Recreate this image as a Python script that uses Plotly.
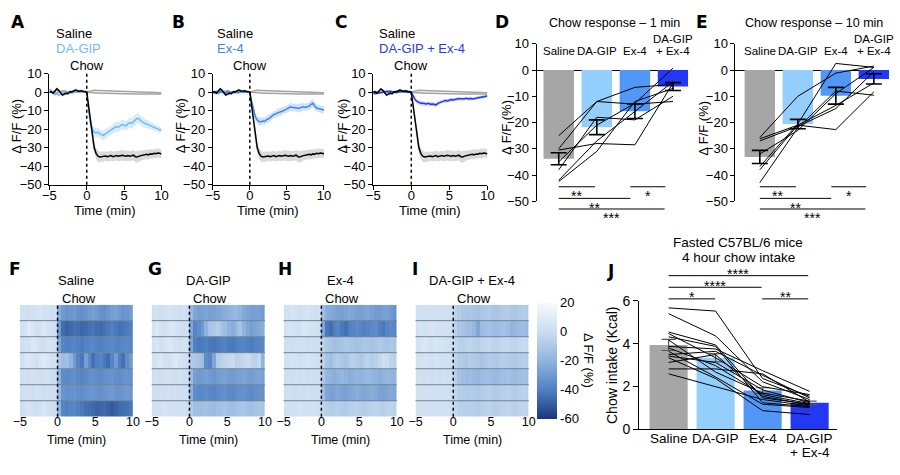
import plotly.graph_objects as go

FONT = "Liberation Sans, Arial, Helvetica, sans-serif"
BOLD = "DejaVu Sans, Liberation Sans, Arial, sans-serif"
W, H = 900, 475

# ---------------- data: photometry traces (A–C) ----------------
time_min = [-5 + 0.25 * i for i in range(61)]

saline_mean = [0, 0.3, -0.5, 0.5, 1.8, 1.0, -0.5, -1.5, -1.0, -0.5, -0.8, 0.3, 0.2, 0.5, 1.2, 0.8, 0.5, 0.8, 0.3, 0.2, 0,
               -8, -17, -25, -30, -33, -34.5, -35, -34.8, -35, -34.5, -34.8, -34.5, -34.2, -34.8, -34.5, -34.2, -34.6,
               -34.3, -34, -34.3, -34.5, -34.2, -34.5, -34.3, -34, -34.8, -35, -34.5, -34.2, -34, -33.8, -33.5, -33.8,
               -33.3, -33.5, -33, -33.2, -32.8, -33, -33.3]
saline_sem = [0.6, 0.7, 0.8, 0.8, 0.9, 0.8, 0.7, 0.8, 0.9, 0.8, 0.7, 0.8, 0.7, 0.8, 0.9, 0.8, 0.7, 0.8, 0.7, 0.6, 0.6,
              1.5, 2.0, 2.5, 2.8, 3.0, 3.0, 2.8, 2.7, 2.6, 2.5, 2.6, 2.7, 2.8, 2.6, 2.5, 2.6, 2.7, 2.8, 2.9, 3.0,
              2.8, 2.7, 2.6, 2.7, 2.8, 3.0, 3.1, 2.9, 2.7, 2.6, 2.5, 2.6, 2.7, 2.5, 2.4, 2.5, 2.6, 2.5, 2.4, 2.5]

dagip_mean = [1.5, 1.0, -0.5, -1.2, -0.8, -1.5, -1.0, -0.5, -0.3, -0.8, -0.2, 0.2, 0.0, 0.3, 0.5, 0.8, 0.4, 0.2, 0.5, 0.3, 0,
              -10, -17, -20, -21.5, -22, -21.5, -22.5, -23, -23.3, -22.5, -21.5, -21, -20.5, -19.5, -19, -18.5, -19,
              -18, -17.5, -17.8, -18.2, -17, -16.5, -16.8, -16, -15, -14, -14.5, -15.5, -16.2, -16.8, -17, -17.5, -18,
              -18.5, -19, -19.3, -19.8, -20.3, -20.5]
dagip_sem = [0.8, 0.9, 1.0, 1.0, 0.9, 1.0, 1.1, 1.0, 0.9, 1.0, 0.9, 0.8, 0.9, 1.0, 0.9, 0.8, 0.9, 0.8, 0.8, 0.7, 0.7,
             1.5, 2.0, 2.3, 2.5, 2.6, 2.5, 2.4, 2.5, 2.6, 2.7, 2.6, 2.5, 2.4, 2.5, 2.6, 2.7, 2.8, 2.7, 2.6, 2.5,
             2.6, 2.7, 2.8, 2.9, 3.0, 2.9, 2.8, 2.7, 2.6, 2.5, 2.4, 2.3, 2.2, 2.1, 2.0, 1.9, 1.8, 1.7, 1.6, 1.5]

ex4_mean = [0, -0.5, 0.3, -0.5, 0.5, 0.2, -0.3, -0.5, 0.2, -0.2, -0.5, 0.1, 0.3, 0.0, -0.2, 0.3, 0.2, 0, 0.2, 0.1, 0,
            -5, -10, -13.5, -15, -15.8, -16, -15.5, -15.8, -14.8, -14.5, -13.5, -12.5, -12, -11.8, -11, -10.8, -10.2,
            -10, -9.5, -9, -8.5, -7.9, -8.3, -8.2, -8.4, -8.8, -8.5, -8, -7.8, -8.2, -8, -7.5, -6.5, -6, -7.5, -8.5,
            -8.8, -9, -9.4, -9.6]
ex4_sem = [0.7, 0.8, 0.8, 0.9, 0.8, 0.7, 0.8, 0.9, 0.8, 0.7, 0.8, 0.7, 0.8, 0.7, 0.8, 0.7, 0.6, 0.7, 0.6, 0.6, 0.6,
           1.2, 1.6, 1.9, 2.1, 2.2, 2.2, 2.1, 2.0, 2.1, 2.2, 2.1, 2.0, 1.9, 2.0, 2.1, 2.2, 2.1, 2.0, 1.9, 2.0,
           2.1, 2.2, 2.1, 2.0, 2.1, 2.2, 2.3, 2.2, 2.1, 2.0, 2.1, 2.2, 2.3, 2.2, 2.1, 2.0, 1.9, 2.0, 2.1, 2.0]

combo_mean = [-0.5, -0.8, -0.5, -0.3, -0.2, 0.2, 0.5, 0.3, 0.2, 0.5, 0.3, 0, 0.4, 0.2, 0.3, 0.5, 0.2, 0.3, 0, 0, 0,
              -2, -4, -5, -5.5, -6, -6, -6.2, -6.3, -6, -6.5, -6.3, -6.5, -6.8, -6, -5.5, -5, -4.8, -4.5, -4.7, -4.3,
              -4, -4.2, -3.8, -3.7, -3.5, -3.6, -3.8, -3.5, -3.3, -3.6, -3.4, -3.5, -3.6, -3.2, -3.0, -3.0, -2.8,
              -2.5, -2.2, -2.0]
combo_sem = [0.5, 0.6, 0.6, 0.5, 0.6, 0.5, 0.6, 0.5, 0.6, 0.5, 0.5, 0.6, 0.5, 0.6, 0.5, 0.5, 0.6, 0.5, 0.5, 0.4, 0.4,
             0.8, 1.0, 1.1, 1.2, 1.2, 1.1, 1.2, 1.1, 1.0, 1.1, 1.2, 1.1, 1.0, 1.1, 1.0, 0.9, 1.0, 1.1, 1.0, 0.9,
             1.0, 0.9, 0.8, 0.9, 1.0, 0.9, 0.8, 0.9, 0.8, 0.9, 1.0, 0.9, 0.8, 0.9, 0.8, 0.9, 0.8, 0.9, 0.8, 0.8]

ctrl_time = [-5 + 0.5 * i for i in range(31)]
ctrl_hi = [0.3, 0.2, -0.3, 0.4, 0.8, 0.2, -0.4, 0.1, 0.3, 0.5, 0.2, 0.8, 1.1, 1.0, 0.9, 0.8, 0.7, 0.6, 0.5, 0.4,
           0.3, 0.2, 0.1, 0.0, -0.1, -0.1, -0.2, -0.2, -0.3, -0.3, -0.3]
ctrl_lo = [0.2, 0.0, -0.2, 0.3, 0.5, 0.1, -0.2, 0.0, 0.2, 0.3, 0.0, -0.2, -0.3, -0.4, -0.5, -0.5, -0.6, -0.6, -0.7,
           -0.7, -0.8, -0.8, -0.8, -0.9, -0.9, -0.9, -1.0, -1.0, -1.0, -1.0, -1.0]

# ---------------- data: D, E (per-mouse responses) ----------------
groups = ["Saline", "DA-GIP", "Ex-4", "DA-GIP + Ex-4"]
group_idx = [0, 1, 2, 3]

d_bar = [-33.8, -21.8, -15.7, -6.3]
d_sem = [2.3, 2.8, 2.75, 1.5]
d_mice = [
    [-25.0, -12.0, -6.6, -5.5],
    [-30.0, -12.0, -13.0, -12.0],
    [-30.5, -28.0, -28.5, -5.0],
    [-35.0, -21.0, -12.7, 0.7],
    [-38.0, -18.0, -19.0, -10.0],
    [-42.0, -27.0, -15.8, -4.5],
    [-42.5, -31.0, -12.0, -7.0],
]

e_bar = [-33.1, -20.6, -9.8, -3.4]
e_sem = [2.5, 1.8, 3.2, 1.95]
e_mice = [
    [-25.7, -10.0, -1.2, 1.5],
    [-26.2, -21.0, -22.7, -8.3],
    [-27.0, -21.5, -14.7, -0.6],
    [-32.0, -23.0, -9.0, 1.0],
    [-36.8, -20.5, 2.5, 1.0],
    [-38.0, -21.0, -13.5, -4.9],
    [-42.9, -22.0, -8.0, -9.6],
]

# ---------------- data: heatmaps (F–I), 7 mice x 30 half-minute bins ----------------
hm_time = [-4.75 + 0.5 * i for i in range(30)]
heat_saline = [
    [4, 3, 2, 3, 5, 6, 4, 3, 2, 3, -22, -30, -32, -31, -30, -33, -34, -32, -30, -28, -30, -33, -34, -31, -28, -27, -30, -32, -31, -29],
    [3, 5, 10, 6, 3, 4, 8, 5, 3, 2, -30, -45, -48, -46, -44, -45, -47, -46, -44, -43, -45, -46, -44, -42, -40, -42, -44, -43, -41, -40],
    [2, 3, 4, 8, 6, 3, 2, 5, 4, 3, -25, -38, -40, -39, -38, -40, -41, -39, -38, -37, -39, -40, -38, -37, -36, -38, -39, -37, -36, -38],
    [3, 6, 8, 5, 4, 7, 9, 6, 4, 3, -10, -15, -14, -20, -30, -38, -42, -28, -36, -44, -40, -38, -42, -45, -38, -30, -40, -44, -35, -30],
    [2, 3, 2, 4, 3, 2, 3, 4, 2, 1, -20, -35, -36, -35, -34, -36, -38, -36, -34, -33, -35, -36, -34, -33, -32, -34, -35, -33, -32, -33],
    [2, 3, 3, 2, 4, 3, 2, 3, 2, 2, -18, -32, -34, -33, -32, -34, -35, -33, -32, -31, -33, -34, -32, -31, -30, -32, -33, -31, -30, -31],
    [1, 3, 5, 3, 2, 4, 6, 3, 2, 1, -20, -38, -40, -38, -37, -40, -42, -44, -45, -46, -48, -47, -46, -48, -50, -48, -46, -45, -44, -42],
]
heat_dagip = [
    [3, 4, 2, 3, 5, 4, 3, 2, 3, 2, -15, -25, -28, -27, -26, -28, -27, -25, -24, -22, -20, -18, -17, -20, -24, -26, -28, -27, -28, -30],
    [5, 8, 4, 3, 6, 8, 5, 3, 2, 4, -25, -38, -35, -30, -20, -12, -10, -8, -12, -15, -20, -22, -18, -12, -20, -25, -28, -26, -24, -22],
    [4, 6, 3, 5, 8, 6, 4, 3, 5, 4, -25, -40, -42, -41, -40, -42, -43, -41, -40, -39, -41, -42, -40, -39, -38, -40, -41, -39, -38, -37],
    [3, 5, 7, 4, 3, 6, 8, 5, 3, 2, -8, -10, -12, -15, -35, -38, -25, -8, -5, -3, -2, 0, -5, -4, -2, 0, -3, -5, -2, -20],
    [2, 3, 2, 3, 4, 3, 2, 3, 2, 2, -15, -28, -30, -29, -28, -30, -31, -29, -28, -27, -29, -30, -28, -27, -26, -28, -29, -27, -26, -27],
    [2, 2, 3, 2, 3, 2, 3, 2, 2, 1, -20, -35, -37, -36, -35, -37, -38, -36, -35, -34, -36, -37, -35, -34, -33, -35, -36, -34, -33, -34],
    [3, 4, 3, 5, 4, 3, 4, 3, 3, 2, -8, -14, -15, -14, -13, -15, -16, -14, -13, -12, -14, -15, -13, -12, -11, -13, -14, -12, -11, -12],
]
heat_ex4 = [
    [3, 4, 5, 3, 2, 4, 5, 3, 2, 3, -15, -22, -24, -25, -27, -28, -26, -24, -25, -27, -28, -26, -25, -27, -29, -30, -28, -27, -30, -32],
    [4, 6, 5, 3, 4, 7, 5, 4, 3, 2, -25, -42, -45, -40, -38, -42, -44, -40, -38, -36, -38, -40, -38, -36, -35, -40, -42, -38, -36, -38],
    [2, 3, 2, 3, 4, 3, 2, 3, 2, 2, -5, -10, -12, -14, -13, -12, -10, -11, -12, -13, -12, -10, -11, -12, -10, -9, -11, -12, -10, -11],
    [3, 4, 5, 4, 3, 5, 6, 4, 3, 2, -5, -12, -14, -10, -8, -10, -12, -8, -6, -8, -10, -7, -5, -8, -6, -2, 2, 0, -4, -6],
    [2, 3, 2, 3, 2, 3, 2, 3, 2, 2, -10, -18, -20, -22, -20, -18, -20, -22, -21, -19, -20, -18, -17, -19, -20, -22, -20, -18, -19, -20],
    [2, 3, 2, 2, 3, 2, 3, 2, 2, 1, -15, -25, -27, -26, -24, -26, -27, -25, -24, -22, -24, -25, -23, -22, -24, -26, -27, -25, -24, -25],
    [3, 4, 3, 4, 5, 4, 3, 4, 3, 2, -3, -6, -8, -7, -6, -8, -9, -7, -6, -5, -7, -8, -6, -5, -4, -6, -7, -5, -4, -5],
]
heat_combo = [
    [3, 4, 3, 4, 3, 4, 3, 3, 2, 2, -4, -8, -10, -11, -10, -12, -13, -11, -10, -9, -11, -12, -10, -9, -8, -10, -11, -9, -8, -9],
    [4, 5, 3, 4, 6, 4, 3, 4, 3, 2, -5, -10, -12, -14, -15, -18, -25, -16, -14, -13, -15, -16, -14, -13, -15, -20, -18, -16, -15, -17],
    [3, 5, 7, 5, 4, 6, 5, 4, 3, 2, -2, -5, -6, -4, -3, -5, -6, -4, -3, -2, -4, -5, -3, -2, -1, -3, -4, -2, -1, -2],
    [3, 4, 5, 4, 3, 5, 4, 3, 3, 2, -4, -8, -9, -10, -8, -9, -10, -12, -10, -8, -9, -10, -8, -7, -8, -9, -10, -8, -7, -8],
    [2, 3, 2, 3, 2, 3, 2, 3, 2, 2, -6, -12, -14, -16, -15, -17, -18, -16, -15, -14, -16, -17, -15, -14, -13, -15, -16, -14, -13, -14],
    [3, 3, 4, 3, 4, 3, 3, 4, 3, 2, -3, -7, -8, -9, -8, -9, -10, -8, -7, -6, -8, -9, -7, -6, -5, -7, -8, -6, -5, -6],
    [3, 4, 3, 4, 3, 4, 3, 3, 3, 2, -2, -5, -6, -7, -6, -7, -8, -6, -5, -4, -6, -7, -5, -4, -3, -5, -6, -4, -3, -4],
]
heat_rows = [0, 1, 2, 3, 4, 5, 6]

# ---------------- data: J (chow intake) ----------------
j_bar = [3.94, 3.34, 1.81, 1.24]
j_sem = [0.26, 0.19, 0.13, 0.08]
j_mice = [
    [5.67, 5.52, 2.37, 1.54], [5.40, 4.36, 2.22, 1.39], [4.54, 3.94, 1.47, 1.17],
    [4.47, 3.34, 1.99, 1.62], [4.32, 3.87, 1.24, 1.06], [4.17, 2.67, 1.69, 1.32],
    [3.87, 3.75, 2.74, 1.77], [3.80, 2.97, 1.62, 1.20], [3.64, 2.44, 1.17, 1.02],
    [3.49, 3.64, 2.52, 1.47], [3.42, 3.12, 1.84, 1.24], [3.34, 2.37, 0.87, 0.69],
    [3.12, 3.49, 1.54, 1.14], [2.82, 2.82, 2.59, 1.27], [2.59, 1.99, 1.39, 1.09],
]

# ---------------- styling ----------------
bar_colors = ["#a6a6a6", "#93cefd", "#5097f6", "#2238f6"]
line_cols = {"dagip": "#74b9f0", "ex4": "#3f86f2", "combo": "#1f3cf2"}
band_cols = {"saline": "rgba(150,150,150,0.35)", "dagip": "rgba(140,200,250,0.35)",
             "ex4": "rgba(90,150,245,0.28)", "combo": "rgba(40,70,240,0.22)"}


def X(p):
    return p / W


def Y(p):
    return 1 - p / H


fig = go.Figure()
layout = dict(width=W, height=H, margin=dict(l=0, r=0, t=0, b=0), paper_bgcolor="white",
              plot_bgcolor="white", showlegend=False, font=dict(family=FONT, size=13, color="black"))
shapes, annotations = [], []

axis_base = dict(showline=True, linecolor="black", linewidth=1, ticks="outside", ticklen=4, tickcolor="black",
                 tickwidth=1, showgrid=False, zeroline=False, tickfont=dict(family=FONT, size=13, color="black"))


def ax_names(n):
    s = "" if n == 1 else str(n)
    return "xaxis" + s, "yaxis" + s, "x" + s, "y" + s


def txt(text, x, y, xref="paper", yref="paper", size=13, color="black", xanchor="center", yanchor="middle",
        angle=0, family=FONT, xshift=0):
    annotations.append(dict(text=text, x=x, y=y, xref=xref, yref=yref, showarrow=False, xanchor=xanchor,
                            yanchor=yanchor, textangle=angle, xshift=xshift,
                            font=dict(family=family, size=size, color=color)))


def letter_txt(letter, px, py):
    txt("<b>" + letter + "</b>", X(px), Y(py), size=17, family=BOLD)


# ---------------- A, B, C ----------------
trace_panels = [
    (1, [43, 157], dagip_mean, dagip_sem, "dagip", "DA-GIP", 48, "A", 11, 10),
    (2, [209, 322], ex4_mean, ex4_sem, "ex4", "Ex-4", 211, "B", 174, 177),
    (3, [372, 488], combo_mean, combo_sem, "combo", "DA-GIP + Ex-4", 376, "C", 339, 341),
]
for n, xd, mean, sem, key, label, legx, letter, letx, ytx in trace_panels:
    xk, yk, xr, yr = ax_names(n)
    layout[xk] = dict(axis_base, domain=[X(xd[0]), X(xd[1])], anchor=yr, range=[-5, 10], tickvals=[-5, 0, 5, 10],
                      ticklabelstandoff=-5)
    layout[yk] = dict(axis_base, domain=[Y(183), Y(68)], anchor=xr, range=[-50, 10],
                      tickvals=[10, 0, -10, -20, -30, -40, -50])
    for c in (ctrl_hi, ctrl_lo):
        fig.add_trace(go.Scatter(x=ctrl_time, y=c, mode="lines", line=dict(color="#a3a3a3", width=1.5),
                                 xaxis=xr, yaxis=yr, hoverinfo="skip"))
    for m, s, col_key in ((mean, sem, key), (saline_mean, saline_sem, "saline")):
        fig.add_trace(go.Scatter(x=time_min, y=[a + b for a, b in zip(m, s)], mode="lines", line=dict(width=0),
                                 xaxis=xr, yaxis=yr, hoverinfo="skip"))
        fig.add_trace(go.Scatter(x=time_min, y=[a - b for a, b in zip(m, s)], mode="lines", line=dict(width=0),
                                 fill="tonexty", fillcolor=band_cols[col_key], xaxis=xr, yaxis=yr, hoverinfo="skip"))
    fig.add_trace(go.Scatter(x=time_min, y=mean, mode="lines", line=dict(color=line_cols[key], width=1.5),
                             xaxis=xr, yaxis=yr))
    fig.add_trace(go.Scatter(x=time_min, y=saline_mean, mode="lines", line=dict(color="black", width=1.5),
                             xaxis=xr, yaxis=yr))
    shapes.append(dict(type="line", xref=xr, yref=yr + " domain", x0=0, x1=0, y0=0, y1=1,
                       line=dict(color="black", width=1.5, dash="dot")))
    txt("Saline", X(legx), Y(26), xanchor="left")
    txt(label, X(legx), Y(41.5), xanchor="left", color=line_cols[key])
    txt("Chow", 0, Y(60), xref=xr)
    txt("Time (min)", X((xd[0] + xd[1]) / 2), Y(210))
    txt("Δ F/F (%)", X(ytx), Y(122), angle=-90)
    letter_txt(letter, letx, 14)

# ---------------- D, E ----------------
bar_panels = [
    (4, [538, 692], d_bar, d_sem, d_mice, "Chow response – 1 min", 617, "D", 503, 508),
    (5, [740, 896], e_bar, e_sem, e_mice, "Chow response – 10 min", 820, "E", 706, 708),
]
sig_de = [(0.0, 0.95, "**", 185), (1.88, 2.8, "*", 185), (0.0, 1.88, "**", 197), (0.0, 2.78, "***", 208)]
for n, xd, bars, sems, mice, title, tx, letter, letx, ytx in bar_panels:
    xk, yk, xr, yr = ax_names(n)
    x_lo = -0.58 if n == 4 else -0.64
    layout[xk] = dict(domain=[X(xd[0]), X(xd[1])], anchor=yr, range=[x_lo, 3.4], visible=False)
    layout[yk] = dict(axis_base, domain=[Y(200), Y(37)], anchor=xr, range=[-50, 10],
                      tickvals=[10, 0, -10, -20, -30, -40, -50], zeroline=True, zerolinecolor="black",
                      zerolinewidth=1)
    fig.add_trace(go.Bar(x=group_idx, y=bars, marker=dict(color=bar_colors, line=dict(width=0)), width=0.8,
                         xaxis=xr, yaxis=yr))
    for m in mice:
        fig.add_trace(go.Scatter(x=group_idx, y=m, mode="lines", line=dict(color="black", width=1),
                                 xaxis=xr, yaxis=yr))
    fig.add_trace(go.Scatter(x=group_idx, y=bars, mode="markers", marker=dict(size=1, color="rgba(0,0,0,0)"),
                             error_y=dict(type="data", array=sems, color="black", thickness=1.6, width=8),
                             xaxis=xr, yaxis=yr))
    for i, g in enumerate(groups):
        if g == "DA-GIP + Ex-4":
            txt("DA-GIP", i, Y(32), xref=xr, size=11.5)
            txt("+ Ex-4", i, Y(45), xref=xr, size=11.5)
        else:
            txt(g, i, Y(45), xref=xr, size=11.5)
    for a, b, lab, py in sig_de:
        shapes.append(dict(type="line", xref=xr, yref=yr + " domain", x0=a, x1=b,
                           y0=(200 - py) / 163, y1=(200 - py) / 163, line=dict(color="black", width=1)))
        txt(lab, (a + b) / 2, Y(py + 9.5), xref=xr, size=14)
    txt(title, X(tx), Y(16), size=12.5)
    txt("Δ F/F (%)", X(ytx), Y(124), angle=-90)
    letter_txt(letter, letx, 14)

# ---------------- F–I heatmaps ----------------
heat_panels = [
    (6, [13, 128], heat_saline, "Saline", "F", 8),
    (7, [147, 262], heat_dagip, "DA-GIP", "G", 150),
    (8, [281, 396], heat_ex4, "Ex-4", "H", 282),
    (9, [415, 530], heat_combo, "DA-GIP + Ex-4", "I", 414),
]
for n, xd, z, title, letter, letx in heat_panels:
    xk, yk, xr, yr = ax_names(n)
    layout[xk] = dict(domain=[X(xd[0]), X(xd[1])], anchor=yr, range=[-5, 10], tickvals=[-5, 0, 5, 10],
                      showline=False, ticks="", showgrid=False, zeroline=False, ticklabelstandoff=-4,
                      tickfont=dict(family=FONT, size=12.5, color="black"))
    layout[yk] = dict(domain=[Y(423), Y(307)], anchor=xr, range=[6.5, -0.5], visible=False)
    fig.add_trace(go.Heatmap(z=z, x=hm_time, y=heat_rows, coloraxis="coloraxis", xaxis=xr, yaxis=yr,
                             hoverinfo="skip"))
    for k in heat_rows[:-1]:
        shapes.append(dict(type="line", xref=xr + " domain", yref=yr, x0=0, x1=1, y0=k + 0.5, y1=k + 0.5,
                           line=dict(color="#71849a", width=1)))
    shapes.append(dict(type="line", xref=xr, yref=yr + " domain", x0=0, x1=0, y0=0, y1=1,
                       line=dict(color="black", width=1.5, dash="dot")))
    txt(title, X((xd[0] + xd[1]) / 2), Y(282))
    txt("Chow", 0, Y(301), xref=xr, xanchor="left", xshift=2)
    txt("Time (min)", X((xd[0] + xd[1]) / 2), Y(447), size=12.5)
    letter_txt(letter, letx, 270)

layout["coloraxis"] = dict(
    cmin=-60, cmax=20,
    colorscale=[[0, "#1a367a"], [0.25, "#4f80c2"], [0.5, "#90b3dd"], [0.75, "#cadcf0"], [1, "#f7fafd"]],
    colorbar=dict(x=X(538), xanchor="left", y=Y(365), yanchor="middle", len=116, lenmode="pixels",
                  thickness=20, thicknessmode="pixels", outlinewidth=0, xpad=0, ypad=0,
                  tickvals=[20, 0, -20, -40, -60], ticktext=["20", "0", "-20", "-40", "-60"], ticks="",
                  tickfont=dict(family=FONT, size=13, color="black")))
txt("Δ F/F (%)", X(590), Y(365), angle=90)

# ---------------- J ----------------
xk, yk, xr, yr = ax_names(10)
layout[xk] = dict(domain=[X(642), X(843)], anchor=yr, range=[-0.63, 3.58], showline=True, linecolor="black",
                  linewidth=1, ticks="", showticklabels=False, showgrid=False, zeroline=False)
layout[yk] = dict(axis_base, domain=[Y(436), Y(303)], anchor=xr, range=[0, 6], tickvals=[0, 2, 4, 6],
                  ticklen=5, tickfont=dict(family=FONT, size=14, color="black"))
fig.add_trace(go.Bar(x=group_idx, y=j_bar, marker=dict(color=bar_colors, line=dict(width=0)), width=0.81,
                     xaxis=xr, yaxis=yr))
fig.add_trace(go.Scatter(x=group_idx, y=j_bar, mode="markers", marker=dict(size=1, color="rgba(0,0,0,0)"),
                         error_y=dict(type="data", array=j_sem, color="#555555", thickness=1.2, width=7),
                         xaxis=xr, yaxis=yr))
for m in j_mice:
    fig.add_trace(go.Scatter(x=group_idx, y=m, mode="lines", line=dict(color="black", width=1),
                             xaxis=xr, yaxis=yr))
for i, g in enumerate(groups):
    if g == "DA-GIP + Ex-4":
        txt("DA-GIP", i, Y(445), xref=xr, size=13.5)
        txt("+ Ex-4", i, Y(460), xref=xr, size=13.5)
    else:
        txt(g, i, Y(445), xref=xr, size=13.5)
sig_j = [(0.0, 2.97, "****", 277), (0.0, 1.98, "****", 289), (0.0, 0.99, "*", 301), (1.99, 2.97, "**", 301)]
for a, b, lab, py in sig_j:
    shapes.append(dict(type="line", xref=xr, yref=yr + " domain", x0=a, x1=b,
                       y0=(436 - py) / 133, y1=(436 - py) / 133, line=dict(color="black", width=1)))
    txt(lab, (a + b) / 2, Y(py - 1.5), xref=xr, size=14)
txt("Fasted C57BL/6 mice", X(743), Y(243), size=13.5)
txt("4 hour chow intake", X(743), Y(258), size=13.5)
txt("Chow intake (Kcal)", X(614), Y(369), angle=-90, size=14)
letter_txt("J", 613, 272)

layout["shapes"] = shapes
layout["annotations"] = annotations
fig.update_layout(layout)
fig.write_html("out.html")
